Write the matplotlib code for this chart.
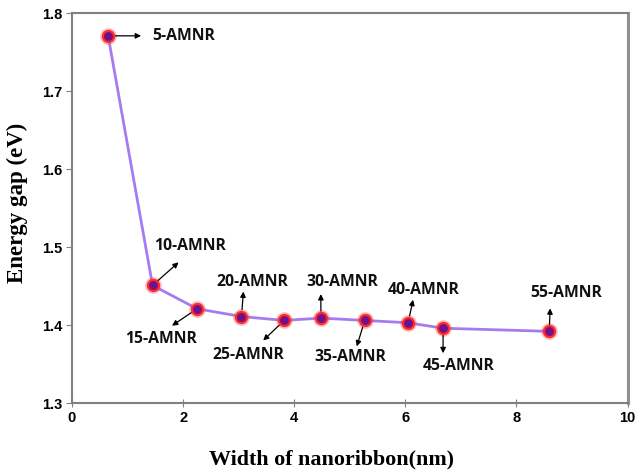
import matplotlib.pyplot as plt

# data
width_nm = [0.65, 1.45, 2.25, 3.05, 3.82, 4.48, 5.27, 6.05, 6.68, 8.59]
gap_ev = [1.771, 1.451, 1.421, 1.411, 1.406, 1.409, 1.406, 1.403, 1.396, 1.392]
names = ['5-AMNR', '10-AMNR', '15-AMNR', '20-AMNR', '25-AMNR',
         '30-AMNR', '35-AMNR', '40-AMNR', '45-AMNR', '55-AMNR']
xticks = [0, 2, 4, 6, 8, 10]
yticks = [1.3, 1.4, 1.5, 1.6, 1.7, 1.8]

# label layout: arrow head offset and text offset (pixels from the point)
arrow_off = [(33, 0), (26, 23), (-25, -17), (2, 25), (-21, -20),
             (0, 24), (-8, -26), (5, 23), (0, -25), (1, 23)]
text_off = [(44, 0), (37, 39), (-36, -30), (11, 35), (-36, -35),
            (21, 36), (-14, -37), (16, 33), (16, -38), (17, 38)]

fig = plt.figure(figsize=(6.4, 4.72), dpi=100)
ax = fig.add_axes([0.1125, 0.146, 0.868, 0.826])

ax.plot(width_nm, gap_ev, color='#a77bf0', lw=2, zorder=2)
ax.plot(width_nm, gap_ev, 'o', ms=12, color='#ff4040', alpha=0.35,
        mec='none', zorder=3)
ax.plot(width_nm, gap_ev, 'o', ms=8, mfc='#70108a', mec='#ff2a2a',
        mew=1.6, zorder=4)

for x, y, name, a, t in zip(width_nm, gap_ev, names, arrow_off, text_off):
    ax.annotate('', xy=(x, y), xytext=a, textcoords='offset pixels',
                arrowprops=dict(arrowstyle='<|-', color='black', lw=0.9,
                                mutation_scale=8, shrinkA=0, shrinkB=5))
    ha = 'left' if name == '5-AMNR' else 'center'
    ax.annotate(name, xy=(x, y), xytext=t, textcoords='offset pixels',
                ha=ha, va='center', fontsize=11.3, fontweight='bold',
                family='Open Sans', color='#111111')

ax.set_xlim(0, 10)
ax.set_ylim(1.3, 1.8)
ax.set_xticks(xticks)
ax.set_yticks(yticks)
ax.set_xticklabels([str(v) for v in xticks])
ax.set_yticklabels([f'{v:.1f}' for v in yticks])
for lab in ax.get_xticklabels() + ax.get_yticklabels():
    lab.set_family('Liberation Sans')
    lab.set_fontweight('bold')
    lab.set_fontsize(10.5)

ax.tick_params(axis='y', direction='out', length=4, color='#808080', pad=3)
ax.tick_params(axis='x', direction='inout', length=6, color='#808080', pad=3)
for side in ['left', 'bottom', 'top']:
    ax.spines[side].set_color('#808080')
    ax.spines[side].set_linewidth(1.5)
ax.spines['right'].set_color('#909090')
ax.spines['right'].set_linewidth(2.2)

ax.set_xlabel('Width of nanoribbon(nm)', family='Liberation Serif',
              fontweight='bold', fontsize=15.8)
ax.set_ylabel('Energy gap (eV)', family='Liberation Serif',
              fontweight='bold', fontsize=16.5)
# the labels sit a little off-centre in the original
ax.xaxis.set_label_coords(0.468, -0.118)
ax.yaxis.set_label_coords(-0.08, 0.513)

fig.savefig('out.png', dpi=100)
